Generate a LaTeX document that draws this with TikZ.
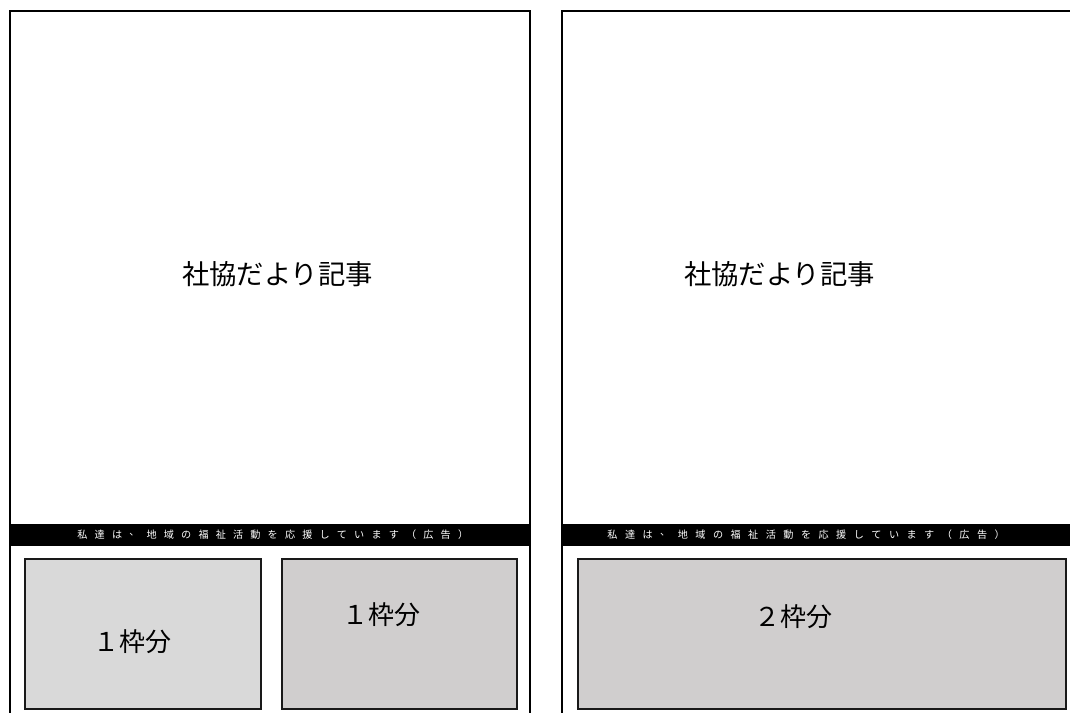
\documentclass[tikz,border=0pt]{standalone}
\usepackage{fontspec}
\newfontfamily\jp{Noto Sans CJK JP}
\definecolor{boxA}{RGB}{217,217,217}
\definecolor{boxB}{RGB}{208,206,206}
\definecolor{boxline}{RGB}{25,25,25}
\tikzset{
  frameline/.style={line width=2.1pt, black},
  band/.style={fill=black, draw=none},
  adbox/.style={draw=boxline, line width=1.8pt},
  title/.style={font=\jp\fontsize{20.5pt}{24pt}\selectfont, inner sep=0pt},
  adtext/.style={font=\jp\fontsize{19.5pt}{23pt}\selectfont, inner sep=0pt},
  bandchar/.style={font=\jp\fontsize{7.6pt}{8pt}\selectfont, text=white, inner sep=0pt},
}
\begin{document}
\begin{tikzpicture}[x=0.75pt,y=-0.75pt]
\useasboundingbox (0,0) rectangle (1070,713);
\fill[white] (0,0) rectangle (1070,713);
% left panel
\draw[frameline] (10,714) -- (10,11) -- (530,11) -- (530,714);
\fill[band] (9,523.5) rectangle (531,546);
\node[title] (tL) at (277.5,274) {社協だより記事};
\foreach \c [count=\i] in {私,達,は,、,地,域,の,福,祉,活,動,を,応,援,し,て,い,ま,す,（,広,告,）}{
  \node[bandchar] (bl\i) at ({82.5+(\i-1)*17.3},535) {\c};
}
\node[adbox, fill=boxA, minimum width=236*0.75pt, minimum height=150*0.75pt, anchor=north west] (a1) at (24,558) {};
\node[adbox, fill=boxB, minimum width=235*0.75pt, minimum height=150*0.75pt, anchor=north west] (a2) at (281,558) {};
\node[adtext] (a1t) at (132,642) {１枠分};
\node[adtext] (a2t) at (381,615) {１枠分};
% right panel
\draw[frameline] (562,714) -- (562,11) -- (1071,11);
\fill[band] (561,523.5) rectangle (1071,546);
\node[title] (tR) at (779.5,274) {社協だより記事};
\foreach \c [count=\i] in {私,達,は,、,地,域,の,福,祉,活,動,を,応,援,し,て,い,ま,す,（,広,告,）}{
  \node[bandchar] (br\i) at ({612.5+(\i-1)*17.6},535) {\c};
}
\node[adbox, fill=boxB, minimum width=488*0.75pt, minimum height=150*0.75pt, anchor=north west] (b1) at (577,558) {};
\node[adtext] (b1t) at (793.5,617) {２枠分};
\end{tikzpicture}
\end{document}
